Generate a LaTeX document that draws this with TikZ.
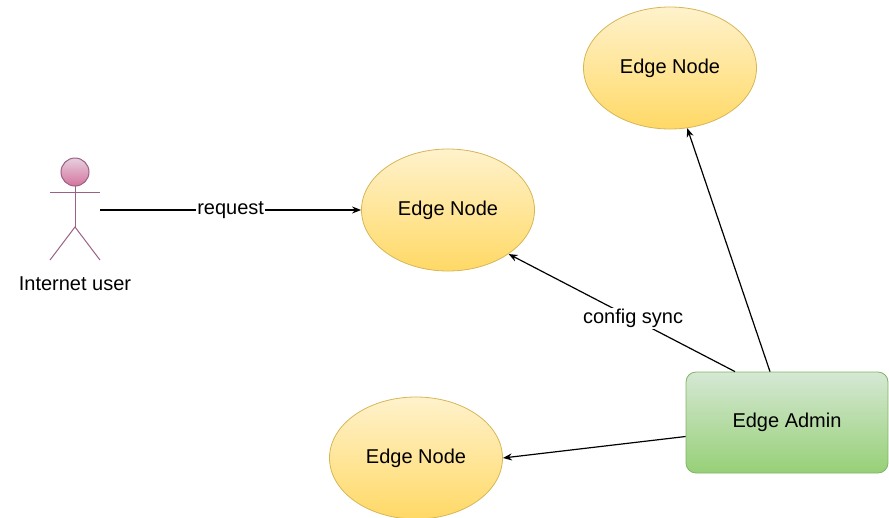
\documentclass[tikz,border=0pt]{standalone}
\usepackage{fontspec}
\setmainfont{Liberation Sans}
\usetikzlibrary{arrows.meta, shapes.geometric}

\definecolor{nodetop}{HTML}{FFF2CC}
\definecolor{nodebot}{HTML}{FFD966}
\definecolor{nodeline}{HTML}{D6B656}
\definecolor{admintop}{HTML}{D5E8D4}
\definecolor{adminbot}{HTML}{97D077}
\definecolor{adminline}{HTML}{82B366}
\definecolor{usertop}{HTML}{E6D0DE}
\definecolor{userbot}{HTML}{D5739D}
\definecolor{userline}{HTML}{996185}

\begin{document}
\begin{tikzpicture}[x=1pt, y=-1pt, font=\fontsize{20}{23}\selectfont,
        edge/.style={ellipse, draw=nodeline, line width=0.8pt, top color=nodetop,
            bottom color=nodebot, minimum width=173pt, minimum height=122pt, inner sep=0pt},
        admin/.style={rectangle, rounded corners=10pt, draw=adminline, line width=0.8pt,
            top color=admintop, bottom color=adminbot, minimum width=202pt,
            minimum height=101pt, inner sep=0pt},
        arr/.style={-{Stealth[length=9pt, width=7pt]}, line width=1.2pt},
        lbl/.style={fill=white, inner sep=1pt}]
        \useasboundingbox (0,0) rectangle (889,517);

        % use cases
        \node [edge] (top) at (670,68) {Edge Node};
        \node [edge] (mid) at (448,210) {Edge Node};
        \node [edge] (low) at (416,458) {Edge Node};
        \node [admin] (adm) at (787,422.5) {Edge Admin};

        % actor
        \node [minimum width=50pt, minimum height=102pt, inner sep=0pt] (user) at (75,210) {};
        \begin{scope}[userline, line width=1pt]
            \draw [top color=usertop, bottom color=userbot] (75,172) circle (14);
            \draw (50,192) -- (100,192);
            \draw (75,186) -- (75,227);
            \draw (50,260) -- (75,227) -- (100,260);
        \end{scope}
        \node (ulabel) at (75,284) {Internet user};

        % connectors
        \draw [arr] (user.east) -- node [lbl] {request} (mid.west);
        \draw [arr] ([xshift=-52pt]adm.north) -- node [lbl, pos=0.45] {config sync} (mid.-36);
        \draw [arr] ([xshift=-17pt]adm.north) -- (top.-74);
        \draw [arr] ([yshift=-14pt]adm.west) -- (low.east);
    \end{tikzpicture}
\end{document}
